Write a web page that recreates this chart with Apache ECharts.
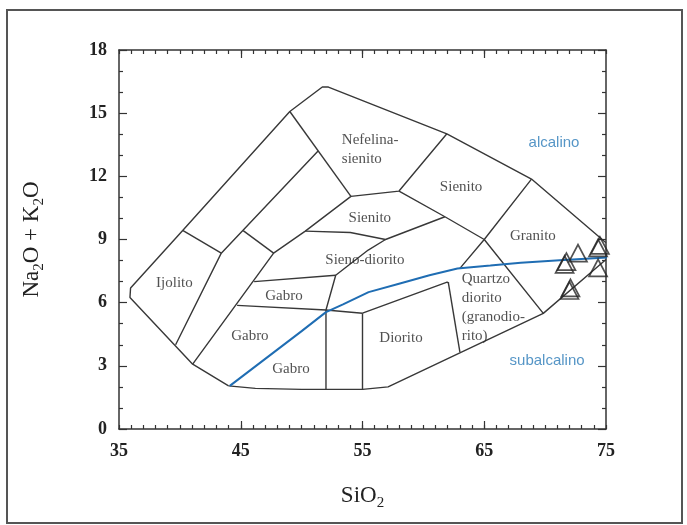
<!DOCTYPE html>
<html>
<head>
<meta charset="utf-8">
<script src="https://cdn.jsdelivr.net/npm/echarts@6/dist/echarts.min.js"></script>
<style>
  html, body { margin: 0; padding: 0; background: #ffffff; }
  #chart { width: 687px; height: 525px; }
</style>
</head>
<body>
<div id="chart"></div>
<script>
// TAS classification of plutonic rocks (SiO2 vs Na2O + K2O)

// axis tick labels
const xLabelTicks = [35, 45, 55, 65, 75];
const yLabelTicks = [0, 3, 6, 9, 12, 15, 18];

// field boundaries, [SiO2, Na2O + K2O]
const outerUpper = [[44.0, 2.05], [41.05, 3.08], [35.9, 6.25], [35.95, 6.7], [40.23, 9.43], [49.03, 15.08], [51.7, 16.24], [52.2, 16.24], [61.93, 14.02], [68.88, 11.87], [75.0, 8.85]];
const outerLower = [[44.0, 2.05], [46.2, 1.93], [50.0, 1.88], [55.0, 1.88], [57.1, 2.0], [69.85, 5.49], [75.0, 8.05]];
const innerBandB = [[51.35, 13.2], [43.4, 8.35], [39.65, 4.0]];
const innerBandC = [[54.05, 11.05], [50.3, 9.4], [47.7, 8.35], [41.05, 3.08]];
const crossIjolito = [[40.23, 9.43], [43.4, 8.35]];
const crossBand = [[45.2, 9.42], [47.7, 8.35]];
const nefelinaLeft = [[49.03, 15.08], [54.05, 11.05]];
const nefelinaBase = [[54.05, 11.05], [58.0, 11.3], [61.93, 14.02]];
const sienitoDivide = [[58.0, 11.3], [61.77, 10.08], [65.0, 9.0], [69.85, 5.49]];
const sienoTop = [[50.3, 9.4], [54.0, 9.33], [56.89, 9.0], [61.77, 10.08]];
const granitoLeft = [[68.88, 11.87], [65.0, 9.0], [63.0, 7.63]];
const sienoLeft = [[52.0, 5.65], [52.8, 7.3], [55.47, 8.5], [56.89, 9.0]];
const gabroUpper = [[46.1, 7.0], [52.8, 7.3]];
const gabroLower = [[44.7, 5.87], [52.0, 5.65], [55.0, 5.5]];
const gabroVertical = [[52.0, 5.65], [52.0, 1.88]];
const dioritoLeft = [[55.0, 5.5], [55.0, 1.88]];
const dioritoTop = [[55.0, 5.5], [61.95, 6.98], [62.1, 6.93]];
const quartzoLeft = [[62.05, 6.95], [63.0, 3.65]];

// alkaline / subalkaline divide
const alkalineDivide = [[44.1, 2.05], [50.0, 4.65], [52.0, 5.55], [53.4, 5.92], [55.5, 6.5], [58.0, 6.9], [60.5, 7.3], [62.8, 7.62], [65.5, 7.76], [68.0, 7.9], [71.2, 8.02], [75.4, 8.15]];

// analysed samples
const samples = [[71.6, 7.82], [71.75, 7.95], [72.7, 8.35], [72.0, 6.58], [72.08, 6.7], [74.35, 8.6], [74.5, 8.72], [74.35, 7.65]];

// field names
const fieldNames = [
  [53.3, 13.25, 'Nefelina-\nsienito'],
  [63.1, 11.47, 'Sienito'],
  [55.6, 10.02, 'Sienito'],
  [55.2, 8.04, 'Sieno-diorito'],
  [69.0, 9.16, 'Granito'],
  [63.15, 5.78, 'Quartzo\ndiorito\n(granodio-\nrito)'],
  [39.55, 6.93, 'Ijolito'],
  [48.55, 6.31, 'Gabro'],
  [45.75, 4.41, 'Gabro'],
  [49.12, 2.84, 'Gabro'],
  [58.16, 4.33, 'Diorito']
];
const seriesNames = [
  [70.73, 13.59, 'alcalino'],
  [70.16, 3.22, 'subalcalino']
];

const boundaries = [outerUpper, outerLower, innerBandB, innerBandC, crossIjolito, crossBand,
  nefelinaLeft, nefelinaBase, sienitoDivide, sienoTop, granitoLeft, sienoLeft, gabroUpper,
  gabroLower, gabroVertical, dioritoLeft, dioritoTop, quartzoLeft];

const ink = '#333333';
const serif = '"Liberation Serif", "Times New Roman", serif';
const axisLine = { show: true, lineStyle: { color: ink, width: 1.5 } };
const tickStyle = { color: ink, width: 1.2 };
const nameRich = {
  t: { fontFamily: serif, fontSize: 23, color: '#222', lineHeight: 30 },
  s: { fontFamily: serif, fontSize: 15, color: '#222', lineHeight: 15, verticalAlign: 'bottom' }
};

function xAxisPair(position, withLabels) {
  return [
    {
      type: 'value', min: 35, max: 75, interval: 1, position: position,
      axisLine: axisLine,
      axisTick: { inside: true, length: 8, customValues: [45, 55, 65], lineStyle: tickStyle },
      axisLabel: withLabels ? {
        customValues: xLabelTicks, margin: 13, color: '#222',
        fontFamily: serif, fontWeight: 'bold', fontSize: 18
      } : { show: false },
      splitLine: { show: false },
      name: withLabels ? '{t|SiO}{s|2}' : '',
      nameLocation: 'middle', nameGap: 52,
      nameTextStyle: { rich: nameRich }
    },
    {
      type: 'value', min: 35, max: 75, interval: 1, position: position,
      axisLine: { show: false },
      axisTick: { inside: true, length: 4, lineStyle: tickStyle },
      axisLabel: { show: false },
      splitLine: { show: false }
    }
  ];
}

function yAxisDef(position, withLabels) {
  return {
    type: 'value', min: 0, max: 18, interval: 3, position: position,
    axisLine: axisLine,
    axisTick: { inside: true, length: 8, lineStyle: tickStyle },
    minorTick: { show: true, splitNumber: 3, length: 4, lineStyle: tickStyle },
    axisLabel: withLabels ? {
      customValues: yLabelTicks, margin: 12, color: '#222',
      fontFamily: serif, fontWeight: 'bold', fontSize: 18
    } : { show: false },
    splitLine: { show: false },
    name: withLabels ? '{t|Na}{s|2}{t|O + K}{s|2}{t|O}' : '',
    nameLocation: 'middle', nameGap: 72, nameRotate: 90,
    nameTextStyle: { rich: nameRich }
  };
}

const series = boundaries.map(function (pts) {
  return {
    type: 'line', data: pts, showSymbol: false, silent: true,
    lineStyle: { color: '#383838', width: 1.4 }, z: 2
  };
});

series.push({
  type: 'line', data: alkalineDivide, showSymbol: false, silent: true, clip: false,
  lineStyle: { color: '#1f6db3', width: 2 }, z: 3
});

// field names; multi-line names are left-aligned at their anchor
series.push({
  type: 'scatter', symbolSize: 0, silent: true,
  data: fieldNames.map(function (d) {
    const multi = d[2].indexOf('\n') >= 0;
    return {
      value: d,
      label: multi ? { align: 'left', position: 'right', distance: 0 } : {}
    };
  }),
  label: {
    show: true, position: 'inside', formatter: function (p) { return p.value[2]; },
    fontFamily: serif, fontSize: 15, color: '#262626', lineHeight: 19
  },
  z: 4
});

series.push({
  type: 'scatter', data: seriesNames, symbolSize: 0, silent: true,
  label: {
    show: true, position: 'inside', formatter: function (p) { return p.value[2]; },
    fontFamily: '"Liberation Sans", Arial, sans-serif', fontSize: 15, color: '#2a7ab8'
  },
  z: 4
});

series.push({
  type: 'scatter', data: samples, symbol: 'triangle', symbolSize: [18, 17], clip: false,
  itemStyle: { color: 'rgba(255,255,255,0)', borderColor: '#262626', borderWidth: 1.7 },
  z: 5
});

const chart = echarts.init(document.getElementById('chart'), null, { renderer: 'canvas' });
chart.setOption({
  backgroundColor: '#ffffff',
  animation: false,
  grid: { left: 119, top: 50, right: 81, bottom: 96 },
  xAxis: xAxisPair('bottom', true).concat(xAxisPair('top', false)),
  yAxis: [yAxisDef('left', true), yAxisDef('right', false)],
  series: series,
  graphic: [{
    type: 'rect', shape: { x: 7, y: 10, width: 675, height: 513 },
    style: { fill: 'none', stroke: '#555', lineWidth: 2 }, silent: true
  }]
});
</script>
</body>
</html>
